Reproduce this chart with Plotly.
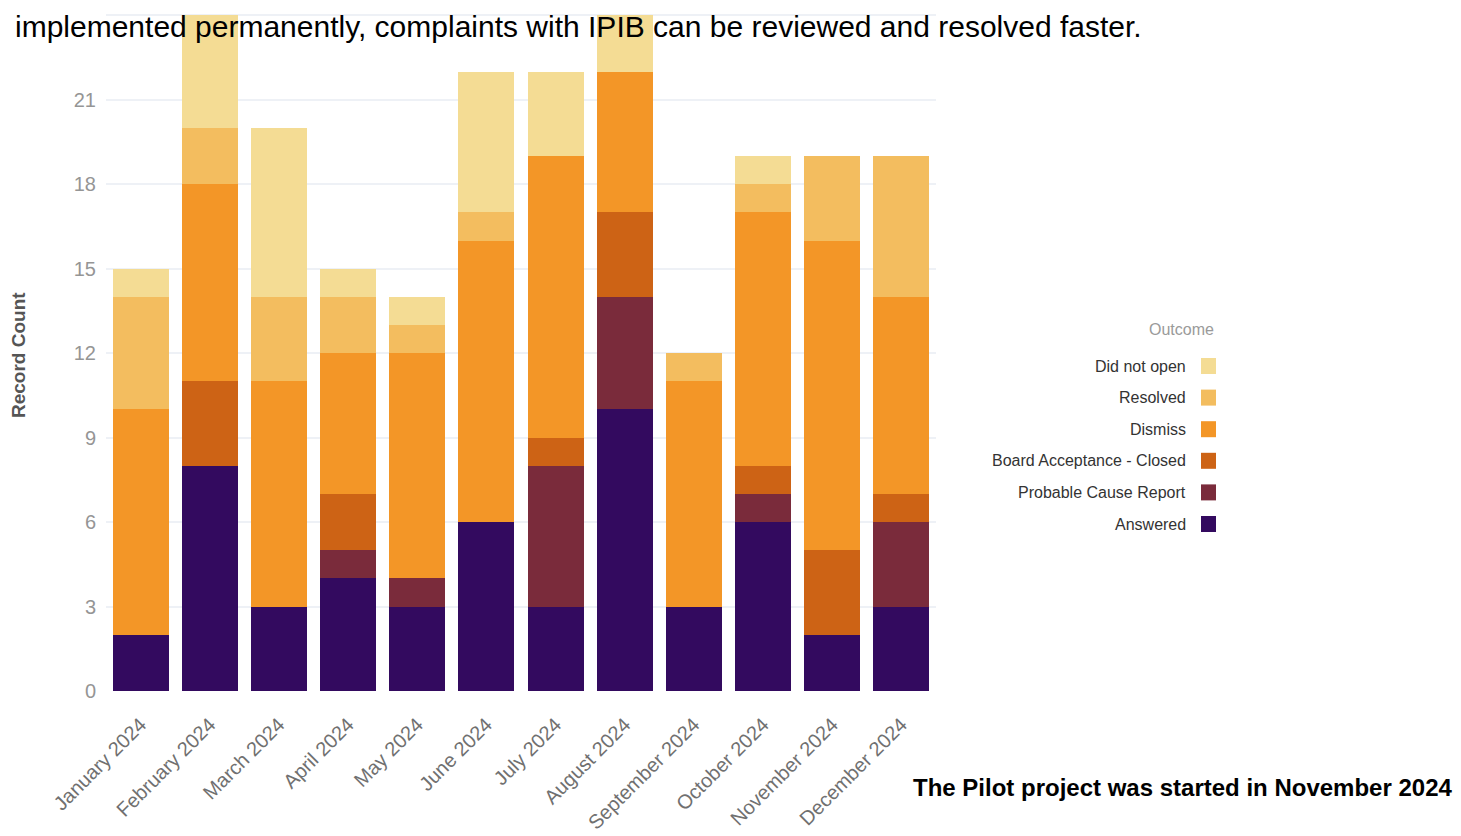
import plotly.graph_objects as go

months = ["January 2024", "February 2024", "March 2024", "April 2024", "May 2024",
          "June 2024", "July 2024", "August 2024", "September 2024", "October 2024",
          "November 2024", "December 2024"]

answered = [2, 8, 3, 4, 3, 6, 3, 10, 3, 6, 2, 3]
probable_cause = [0, 0, 0, 1, 1, 0, 5, 4, 0, 1, 0, 3]
board_closed = [0, 3, 0, 2, 0, 0, 1, 3, 0, 1, 3, 1]
dismiss = [8, 7, 8, 5, 8, 10, 10, 5, 8, 9, 11, 7]
resolved = [4, 2, 3, 2, 1, 1, 0, 0, 1, 1, 3, 5]
did_not_open = [1, 4, 6, 1, 1, 5, 3, 2, 0, 1, 0, 0]

series_names = ["Answered", "Probable Cause Report", "Board Acceptance - Closed",
                "Dismiss", "Resolved", "Did not open"]
series_values = [answered, probable_cause, board_closed, dismiss, resolved, did_not_open]
series_colors = ["#330A5F", "#7A2B3B", "#CD6315", "#F39627", "#F3BD5F", "#F4DC94"]

y_ticks = [0, 3, 6, 9, 12, 15, 18, 21, 24]

fig = go.Figure()
for name, vals, col in zip(series_names, series_values, series_colors):
    fig.add_trace(go.Bar(x=months, y=vals, name=name, marker_color=col,
                         marker_line_width=0, showlegend=False))

# page has an 8px body margin; geometry below is in page pixels
OFF = 8
L, R, T, B = 106, 936, 8, 691
W, H = 1461 - OFF, 836 - OFF
PW, PH = R - L, B - T

def px(xp):
    return (xp - L) / PW

def py(yp):
    return (B - yp) / PH

fig.update_layout(
    width=W, height=H,
    margin=dict(l=L - OFF, r=W - (R - OFF), t=T - OFF, b=H - (B - OFF)),
    barmode="stack", bargap=0.19,
    plot_bgcolor="white", paper_bgcolor="white",
    font=dict(family="Liberation Sans, Arial, sans-serif"),
    xaxis=dict(tickangle=-45, tickfont=dict(size=20, color="#707070"), ticklabelstandoff=17,
               showgrid=False, zeroline=False, showline=False, ticks=""),
    yaxis=dict(range=[0, 24.26], tickvals=y_ticks, tickfont=dict(size=20, color="#959595"),
               ticklabelstandoff=9,
               showgrid=True, gridcolor="#EEF1F6", gridwidth=1.5, zeroline=False,
               showline=False, ticks="", automargin=False),
)

annotations = []
shapes = []

# y axis title
annotations.append(dict(text="<b>Record Count</b>", x=px(18), y=py(355), xref="paper", yref="paper",
                        textangle=-90, showarrow=False, font=dict(size=19, color="#555555"),
                        xanchor="center", yanchor="middle"))

# legend (title + items, swatches on the right)
annotations.append(dict(text="Outcome", x=px(1216), y=py(330), xref="paper", yref="paper",
                        showarrow=False, xanchor="right", yanchor="middle",
                        font=dict(size=16, color="#9a9a9a")))
legend_order = list(zip(series_names, series_colors))[::-1]
for i, (name, col) in enumerate(legend_order):
    yc = 366 + i * 31.6
    annotations.append(dict(text=name, x=px(1188), y=py(yc), xref="paper", yref="paper",
                            showarrow=False, xanchor="right", yanchor="middle",
                            font=dict(size=16, color="#333333")))
    shapes.append(dict(type="rect", xref="paper", yref="paper",
                       x0=px(1201), x1=px(1216), y0=py(yc + 8), y1=py(yc - 8),
                       fillcolor=col, line=dict(width=0)))

# surrounding document text
annotations.append(dict(text="implemented permanently, complaints with IPIB can be reviewed and resolved faster.",
                        x=px(14), y=py(27), xref="paper", yref="paper", showarrow=False,
                        xanchor="left", yanchor="middle", borderpad=0,
                        font=dict(size=30, color="#000000", family="Liberation Sans, Arial, sans-serif")))
annotations.append(dict(text="<b>The Pilot project was started in November 2024</b>",
                        x=px(912), y=py(787), xref="paper", yref="paper", showarrow=False,
                        xanchor="left", yanchor="middle", borderpad=0,
                        font=dict(size=24, color="#000000", family="Liberation Sans, Arial, sans-serif")))

fig.update_layout(annotations=annotations, shapes=shapes)

fig.write_html("out.html")
